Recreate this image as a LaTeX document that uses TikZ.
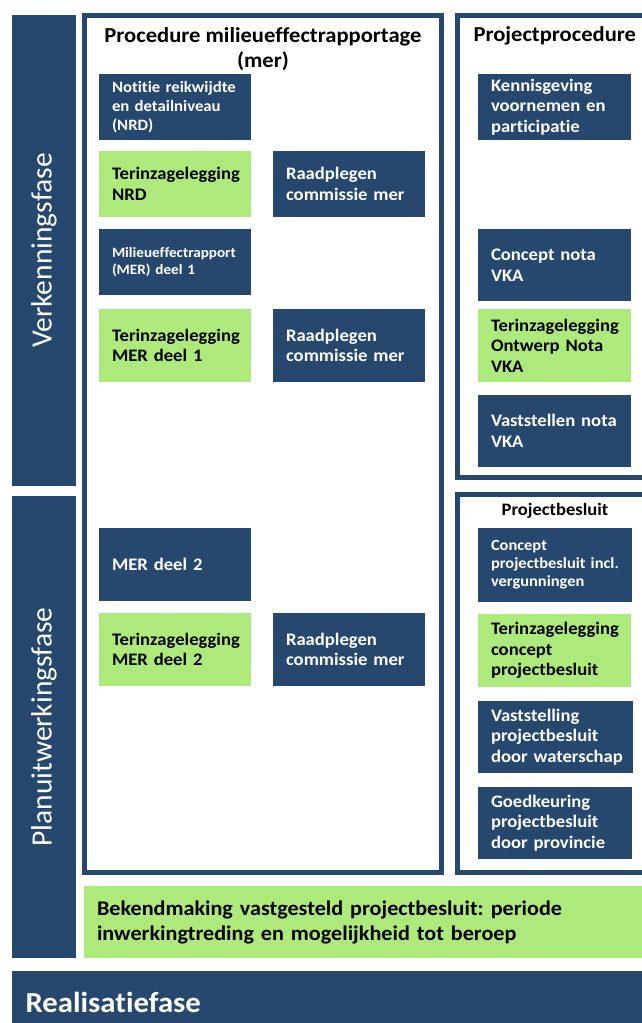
\documentclass[tikz,border=0pt]{standalone}
\usepackage{fontspec}
\setmainfont{Carlito}[Ligatures=CommonOff,BoldFeatures={FakeStretch=1.06}]
\definecolor{merblauw}{RGB}{38,72,110}
\definecolor{mergroen}{RGB}{173,234,123}
\newcommand\blokfont{\fontsize{17.6}{20.5}\selectfont\bfseries}
\newcommand\kleinfont{\fontsize{15.8}{19}\selectfont\bfseries}
\newcommand\minifont{\fontsize{14.3}{17}\selectfont\bfseries}
\frenchspacing
\hyphenpenalty=10000
\hbadness=10000
\hfuzz=20pt

\begin{document}
\begin{tikzpicture}[x=1pt,y=-1pt,
    blok/.style={anchor=north west,outer sep=0pt,inner xsep=13pt,inner ysep=0pt,
                 align=left,text width=126pt,font=\blokfont},
    donker/.style={blok,fill=merblauw,text=white},
    groen/.style={blok,fill=mergroen,text=black},
    kader/.style={draw=merblauw,line width=5pt},
    fase/.style={fill=merblauw,text=white,outer sep=0pt,rotate=90,minimum height=64pt,
                 font=\fontsize{29.5}{34}\selectfont}]
  \useasboundingbox (0,0) rectangle (642,1023);
  \clip (0,0) rectangle (642,1023);
  % fasen
  \node[fase,minimum width=471pt] (verk) at (44,250.5) {Verkenningsfase};
  \node[fase,minimum width=462pt] (plan) at (44,727) {Planuitwerkingsfase};
  \fill[merblauw] (12,971) rectangle (660,1040);
  \node[anchor=west,text=white,font=\fontsize{29}{34}\selectfont\bfseries] (real) at (22,1002) {Realisatiefase};
  % kaders
  \draw[kader] (84.5,15.5) rectangle (441.5,872.5);
  \draw[kader] (457.5,15.5) rectangle (660,477.5);
  \draw[kader] (457.5,494.5) rectangle (660,872.5);
  \node[align=center,font=\fontsize{21.3}{25}\selectfont\bfseries] (tmer) at (263,49) {Procedure milieueffectrapportage\\(mer)};
  \node[anchor=west,font=\fontsize{21.3}{25}\selectfont\bfseries] (tpro) at (470,36) {Projectprocedure};
  \node[font=\fontsize{17.5}{20}\selectfont\bfseries] (tbes) at (555,511) {Projectbesluit};
  % mer
  \node[donker,minimum height=66pt,font=\kleinfont] (nrd) at (99,74) {Notitie reikwijdte\\en detailniveau\\(NRD)};
  \node[groen,minimum height=66pt] (tnrd) at (99,151) {Terinzagelegging\\NRD};
  \node[donker,minimum height=66pt] (rc1) at (273,151) {Raadplegen\\commissie mer};
  \node[donker,minimum height=66pt,font=\minifont] (mer1) at (99,229) {Milieueffectrapport\\(MER) deel 1};
  \node[groen,minimum height=73pt] (tmer1) at (99,309) {Terinzagelegging\\MER deel 1};
  \node[donker,minimum height=73pt] (rc2) at (273,309) {Raadplegen\\commissie mer};
  \node[donker,minimum height=73pt] (mer2) at (99,528) {MER deel 2};
  \node[groen,minimum height=73pt] (tmer2) at (99,613) {Terinzagelegging\\MER deel 2};
  \node[donker,minimum height=73pt] (rc3) at (273,613) {Raadplegen\\commissie mer};
  % projectprocedure
  \node[donker,minimum height=66pt,text width=127pt] (kenn) at (478,74) {Kennisgeving\\voornemen en\\participatie};
  \node[donker,minimum height=72pt,text width=127pt] (cnota) at (478,229) {Concept nota\\VKA};
  \node[groen,minimum height=73pt,text width=127pt] (tnota) at (478,309) {Terinzagelegging\\Ontwerp Nota\\VKA};
  \node[donker,minimum height=72pt,text width=127pt] (vnota) at (478,395) {Vaststellen nota\\VKA};
  % projectbesluit
  \node[donker,minimum height=74pt,text width=128pt,font=\fontsize{15.5}{18}\selectfont\bfseries] (cpb) at (478,528) {Concept\\projectbesluit incl.\\vergunningen};
  \node[groen,minimum height=73pt,text width=127pt] (tpb) at (478,614) {Terinzagelegging\\concept\\projectbesluit};
  \node[donker,minimum height=72pt,text width=129pt] (vpb) at (478,701) {Vaststelling\\projectbesluit\\door~waterschap};
  \node[donker,minimum height=72pt,text width=128pt] (gpb) at (478,787) {Goedkeuring\\projectbesluit\\door provincie};
  % bekendmaking
  \node[groen,minimum height=72pt,text width=540pt,font=\fontsize{20.9}{25}\selectfont\bfseries] (bek) at (84,886)
    {Bekendmaking vastgesteld projectbesluit: periode\\inwerkingtreding en mogelijkheid tot beroep};
\end{tikzpicture}
\end{document}
